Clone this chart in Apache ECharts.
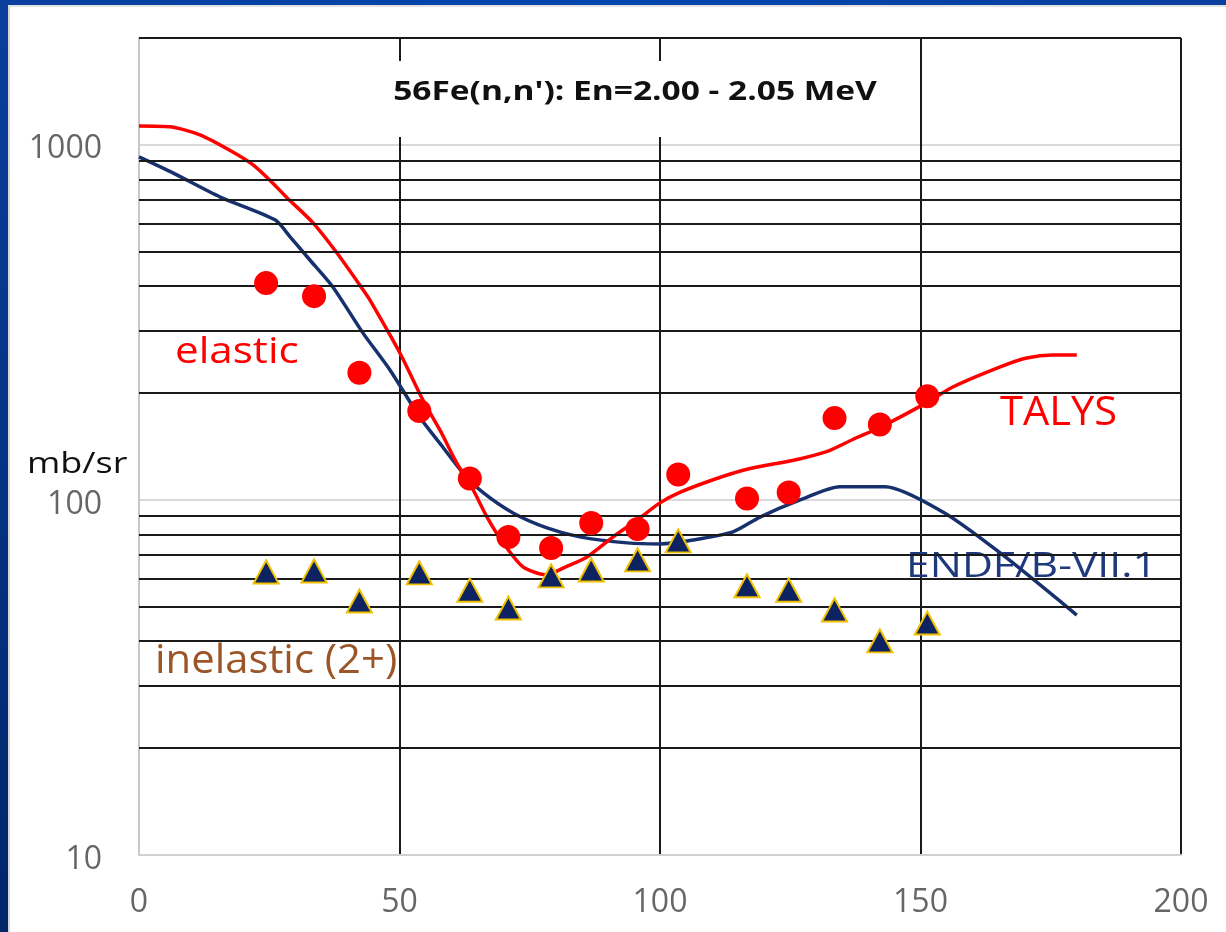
<!DOCTYPE html>
<html>
<head>
<meta charset="utf-8">
<script src="https://cdn.jsdelivr.net/npm/echarts@6/dist/echarts.min.js"></script>
<style>
  html, body { margin: 0; padding: 0; background: #ffffff; }
  #chart { width: 1226px; height: 932px; }
</style>
</head>
<body>
<div id="chart"></div>
<script>
// 56Fe(n,n') angular distributions, En = 2.00 - 2.05 MeV
const angles      = [24.4, 33.6, 42.3, 53.8, 63.5, 70.9, 79.1, 86.8, 95.7, 103.5, 116.7, 124.7, 133.5, 142.2, 151.3];
const elasticXS   = [408, 375, 228, 178, 115, 78.6, 73.2, 86.1, 82.8, 118, 101, 105, 170, 163, 196];
const inelasticXS = [62.7, 63.1, 51.9, 62.3, 55.7, 49.6, 61.1, 63.5, 67.8, 76.7, 57.3, 55.7, 49.0, 40.1, 45.0];

const talysAngles = [0, 6, 11.7, 18, 21.9, 25.7, 28.4, 33.4, 38, 43, 44.3, 50.1, 54.5, 57.8, 61, 64.1, 66.8, 69.9, 73.7, 78.3, 81.4, 86, 91, 95.6, 100, 103.8, 110.2, 116.7, 126.3, 132.1, 137, 142.2, 151.2, 156.2, 165.3, 170.4, 175.4, 180];
const talysXS     = [1131, 1124, 1067, 955, 878, 780, 710, 603, 496, 391, 366, 259, 191, 157, 127, 107, 89.5, 75.7, 64.8, 61.5, 64.3, 69.1, 78.7, 87.8, 98.1, 105, 114, 122, 130, 137, 148, 160, 188, 208, 237, 251, 256, 256];

const endfAngles  = [0, 6.5, 15.5, 26.1, 29, 32.8, 37.2, 43, 48.2, 53.9, 58.3, 62.2, 66, 71.8, 78.3, 84.6, 93.7, 100, 106.3, 114, 119.2, 126.9, 134.5, 143.2, 154.3, 165.3, 180];
const endfXS      = [925, 834, 714, 615, 551, 474, 398, 295, 232, 171, 141, 119, 105, 91.9, 83.4, 78.7, 75.7, 75.2, 77.1, 81.3, 89.5, 100, 109, 109, 92.5, 70.9, 47.4];

const xTicks = [0, 50, 100, 150, 200];
const yMinorLines = [20, 30, 40, 50, 60, 70, 80, 90, 200, 300, 400, 500, 600, 700, 800, 900, 2000];

const pairs = (xs, ys) => xs.map((x, i) => [x, ys[i]]);

const FONT = '"Open Sans", "Liberation Sans", sans-serif';
const chart = echarts.init(document.getElementById('chart'), null, { renderer: 'canvas' });

chart.setOption({
  backgroundColor: '#ffffff',
  animation: false,
  grid: { left: 139, right: 45, top: 38, bottom: 77, containLabel: false },
  xAxis: {
    type: 'value',
    min: xTicks[0],
    max: xTicks[xTicks.length - 1],
    interval: 50,
    axisLine: { show: true, lineStyle: { color: '#d0d0d0', width: 2 } },
    axisTick: { show: false },
    axisLabel: { color: '#666666', fontSize: 32, fontFamily: FONT, margin: 32 },
    splitLine: { show: true, showMinLine: false, showMaxLine: true, lineStyle: { color: '#1a1a1a', width: 2 } }
  },
  yAxis: {
    type: 'log',
    logBase: 10,
    min: 10,
    max: 2000,
    axisLine: { show: true, lineStyle: { color: '#c8c8c8', width: 2 } },
    axisTick: { show: false },
    axisLabel: {
      color: '#666666', fontSize: 32, fontFamily: FONT, margin: 37,
      formatter: v => {
        const l = Math.log10(v);
        return Math.abs(l - Math.round(l)) < 1e-6 ? '{v|' + Math.round(v) + '}' : '';
      },
      rich: { v: { color: '#666666', fontSize: 32, fontFamily: FONT, padding: [9, 0, 0, 0] } }
    },
    splitLine: { show: true, showMinLine: false, lineStyle: { color: '#d9d9d9', width: 2 } }
  },
  graphic: [
    // slide frame
    { type: 'rect', left: 0, top: 0, z: 50, shape: { width: 8, height: 932 },
      style: { fill: new echarts.graphic.LinearGradient(0, 0, 0, 1, [{ offset: 0, color: '#0a3f9e' }, { offset: 1, color: '#00266a' }]) } },
    { type: 'rect', left: 0, top: 0, z: 50, shape: { width: 1226, height: 5 },
      style: { fill: new echarts.graphic.LinearGradient(0, 0, 1, 0, [{ offset: 0, color: '#0a3f9e' }, { offset: 0.5, color: '#0046ae' }, { offset: 1, color: '#0a3f9e' }]) } },
    { type: 'rect', left: 8, top: 5, z: 49, shape: { width: 2, height: 927 }, style: { fill: '#d6d6d6' } },
    { type: 'rect', left: 8, top: 5, z: 49, shape: { width: 1218, height: 2 }, style: { fill: '#e2e2e2' } },
    // title box
    { type: 'rect', z: 20, shape: { x: 385, y: 61, width: 520, height: 76 }, style: { fill: '#ffffff' } },
    { type: 'text', z: 21, x: 635, y: 92, scaleX: 1.24, style: { x: 0, y: 0, text: "56Fe(n,n'): En=2.00 - 2.05 MeV", fill: '#111111',
        font: 'bold 27px ' + FONT, textAlign: 'center', textVerticalAlign: 'middle' } },
    // axis unit
    { type: 'text', z: 21, x: 27, y: 464, scaleX: 1.2, style: { x: 0, y: 0, text: 'mb/sr', fill: '#111111',
        font: '30px ' + FONT, textAlign: 'left', textVerticalAlign: 'middle' } },
    // curve / data annotations
    { type: 'text', z: 21, x: 175, y: 352, scaleX: 1.14, style: { x: 0, y: 0, text: 'elastic', fill: '#ff0000',
        font: '37px ' + FONT, textAlign: 'left', textVerticalAlign: 'middle' } },
    { type: 'text', z: 21, x: 1000, y: 414, scaleX: 1.04, style: { x: 0, y: 0, text: 'TALYS', fill: '#ff0000',
        font: '40px ' + FONT, textAlign: 'left', textVerticalAlign: 'middle' } },
    { type: 'text', z: 1, x: 906, y: 567, scaleX: 1.22, style: { x: 0, y: 0, text: 'ENDF/B-VII.1', fill: '#1f3a7c',
        font: '35px ' + FONT, textAlign: 'left', textVerticalAlign: 'middle' } },
    { type: 'text', z: 21, x: 155, y: 661, scaleX: 1.02, style: { x: 0, y: 0, text: 'inelastic (2+)', fill: '#9b5526',
        font: '41px ' + FONT, textAlign: 'left', textVerticalAlign: 'middle' } }
  ],
  series: [
    {
      name: 'grid',
      type: 'line',
      data: [],
      z: 1,
      silent: true,
      markLine: {
        silent: true,
        symbol: ['none', 'none'],
        label: { show: false },
        lineStyle: { color: '#1a1a1a', width: 2, type: 'solid' },
        data: yMinorLines.map(v => ({ yAxis: v }))
      }
    },
    {
      name: 'ENDF/B-VII.1',
      type: 'line',
      data: pairs(endfAngles, endfXS),
      smooth: 0.25,
      showSymbol: false,
      lineStyle: { color: '#17306e', width: 3.5 },
      z: 3
    },
    {
      name: 'TALYS',
      type: 'line',
      data: pairs(talysAngles, talysXS),
      smooth: 0.25,
      showSymbol: false,
      lineStyle: { color: '#ff0000', width: 3.5 },
      z: 4
    },
    {
      name: 'elastic',
      type: 'scatter',
      data: pairs(angles, elasticXS),
      symbol: 'circle',
      symbolSize: 24,
      itemStyle: { color: '#ff0000', opacity: 1 },
      z: 5
    },
    {
      name: 'inelastic (2+)',
      type: 'scatter',
      data: pairs(angles, inelasticXS),
      symbol: 'triangle',
      symbolSize: [25, 23],
      itemStyle: { color: '#0d2260', borderColor: '#f0c000', borderWidth: 2, opacity: 1 },
      z: 5
    }
  ]
});
</script>
</body>
</html>
